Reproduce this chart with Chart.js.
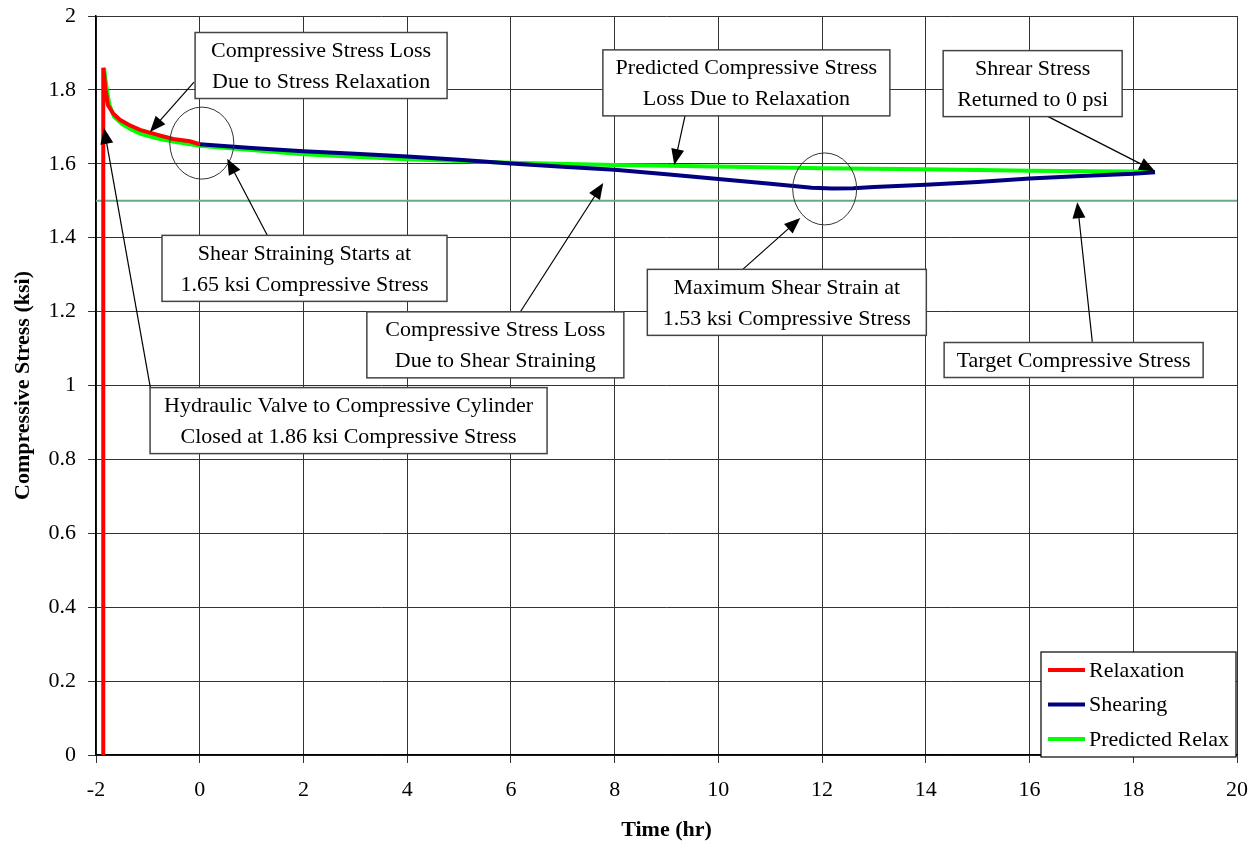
<!DOCTYPE html>
<html>
<head>
<meta charset="utf-8">
<script src="https://cdn.jsdelivr.net/npm/chart.js@4.4.1/dist/chart.umd.min.js"></script>
<style>
  html, body { margin: 0; padding: 0; background: #fff; }
</style>
</head>
<body>
<canvas id="chart" width="1256" height="846"></canvas>
<script>
// values: time (hr) / compressive stress (ksi)
const relaxTime   = [-1.86, -1.86, -1.84, -1.82, -1.77, -1.67, -1.54, -1.36, -1.15, -0.83, -0.51, -0.19, 0];
const relaxStress = [0, 1.86, 1.835, 1.804, 1.759, 1.736, 1.719, 1.705, 1.692, 1.679, 1.667, 1.661, 1.653];

const shearTime   = [0, 1, 2, 3, 4, 5, 6, 7, 8, 9, 10, 11, 11.8, 12.2, 12.6, 13, 14, 15, 16, 17, 18, 18.42];
const shearStress = [1.653, 1.643, 1.634, 1.627, 1.62, 1.611, 1.601, 1.592, 1.584, 1.572, 1.559, 1.546, 1.535, 1.533, 1.534, 1.537, 1.543, 1.551, 1.56, 1.567, 1.573, 1.577];

const predTime   = [-1.845, -1.82, -1.79, -1.74, -1.65, -1.5, -1.34, -1.15, -0.83, -0.51, 0, 2, 4, 6, 8, 10, 12, 14, 16, 18, 18.42];
const predStress = [1.86, 1.83, 1.80, 1.759, 1.727, 1.708, 1.694, 1.682, 1.669, 1.66, 1.649, 1.626, 1.612, 1.603, 1.597, 1.593, 1.588, 1.585, 1.581, 1.579, 1.578];

const targetTime   = [-2, 20];
const targetStress = [1.5, 1.5];

const seriesNames = ['Relaxation', 'Shearing', 'Predicted Relax'];
const seriesColors = ['#ff0000', '#000080', '#00ff00'];

// callouts: box centre, arrow tail and arrow tip in data units
const notes = [
  { text: ['Compressive Stress Loss', 'Due to Stress Relaxation'], at: [2.34, 1.866], w: 252, from: [-0.11, 1.821], to: [-0.96, 1.686] },
  { text: ['Predicted Compressive Stress', 'Loss Due to Relaxation'], at: [10.54, 1.819], w: 287, from: [9.36, 1.732], to: [9.15, 1.597] },
  { text: ['Shrear Stress', 'Returned to 0 psi'], at: [16.06, 1.817], w: 179, from: [16.34, 1.729], to: [18.42, 1.58] },
  { text: ['Shear Straining Starts at', '1.65 ksi Compressive Stress'], at: [2.02, 1.317], w: 285, from: [1.32, 1.402], to: [0.53, 1.614] },
  { text: ['Compressive Stress Loss', 'Due to Shear Straining'], at: [5.70, 1.110], w: 257, from: [6.18, 1.199], to: [7.78, 1.548] },
  { text: ['Maximum Shear Strain at', '1.53 ksi Compressive Stress'], at: [11.32, 1.225], w: 279, from: [10.46, 1.313], to: [11.58, 1.453] },
  { text: ['Target Compressive Stress'], at: [16.85, 1.069], w: 259, from: [17.21, 1.118], to: [16.92, 1.496] },
  { text: ['Hydraulic Valve to Compressive Cylinder', 'Closed at 1.86 ksi Compressive Stress'], at: [2.87, 0.905], w: 397, from: [-0.94, 0.985], to: [-1.846, 1.697] }
];
const rings = [[0.04, 1.656], [12.05, 1.532]];

const serif = "'Liberation Serif', 'Times New Roman', serif";

function pts(xs, ys) {
  return xs.map((x, i) => ({ x: x, y: ys[i] }));
}

function arrow(ctx, x1, y1, x2, y2) {
  const a = Math.atan2(y2 - y1, x2 - x1);
  const len = 16, half = 6.5;
  ctx.beginPath();
  ctx.moveTo(x1, y1);
  ctx.lineTo(x2 - Math.cos(a) * len * 0.8, y2 - Math.sin(a) * len * 0.8);
  ctx.stroke();
  ctx.beginPath();
  ctx.moveTo(x2, y2);
  ctx.lineTo(x2 - Math.cos(a) * len + Math.sin(a) * half, y2 - Math.sin(a) * len - Math.cos(a) * half);
  ctx.lineTo(x2 - Math.cos(a) * len - Math.sin(a) * half, y2 - Math.sin(a) * len + Math.cos(a) * half);
  ctx.closePath();
  ctx.fill();
}

const calloutPlugin = {
  id: 'callouts',
  afterDatasetsDraw(chart) {
    const ctx = chart.ctx;
    const xs = chart.scales.x, ys = chart.scales.y;
    ctx.save();

    // circles
    ctx.strokeStyle = '#333';
    ctx.lineWidth = 1;
    rings.forEach(r => {
      ctx.beginPath();
      ctx.ellipse(xs.getPixelForValue(r[0]), ys.getPixelForValue(r[1]), 32, 36, 0, 0, Math.PI * 2);
      ctx.stroke();
    });

    // arrows
    ctx.strokeStyle = '#000';
    ctx.fillStyle = '#000';
    ctx.lineWidth = 1.2;
    notes.forEach(n => {
      arrow(ctx, xs.getPixelForValue(n.from[0]), ys.getPixelForValue(n.from[1]),
        xs.getPixelForValue(n.to[0]), ys.getPixelForValue(n.to[1]));
    });

    // text boxes
    ctx.font = '22px ' + serif;
    ctx.textAlign = 'center';
    ctx.textBaseline = 'middle';
    notes.forEach(n => {
      const cx = xs.getPixelForValue(n.at[0]);
      const cy = ys.getPixelForValue(n.at[1]);
      const lh = 31;
      const h = n.text.length * lh + 4;
      ctx.fillStyle = '#fff';
      ctx.fillRect(cx - n.w / 2, cy - h / 2, n.w, h);
      ctx.strokeStyle = '#444';
      ctx.lineWidth = 1.5;
      ctx.strokeRect(cx - n.w / 2, cy - h / 2, n.w, h);
      ctx.fillStyle = '#000';
      n.text.forEach((t, i) => {
        ctx.fillText(t, cx, cy + (i - (n.text.length - 1) / 2) * lh + 1);
      });
    });

    // legend box in the lower right corner
    const area = chart.chartArea;
    const lw = 195, lhgt = 105;
    const lx = area.right - lw - 1, ly = area.bottom - lhgt + 2;
    ctx.fillStyle = '#fff';
    ctx.fillRect(lx, ly, lw, lhgt);
    ctx.strokeStyle = '#000';
    ctx.lineWidth = 1.2;
    ctx.strokeRect(lx, ly, lw, lhgt);
    ctx.textAlign = 'left';
    chart.data.datasets.slice(0, 3).forEach((ds, i) => {
      const yy = ly + 18 + i * 34.5;
      ctx.strokeStyle = ds.borderColor;
      ctx.lineWidth = 4;
      ctx.beginPath();
      ctx.moveTo(lx + 7, yy);
      ctx.lineTo(lx + 44, yy);
      ctx.stroke();
      ctx.fillStyle = '#000';
      ctx.fillText(ds.label, lx + 48, yy + 1);
    });
    ctx.restore();
  }
};

const lineStyle = { borderWidth: 4, pointRadius: 0, tension: 0, fill: false };

new Chart(document.getElementById('chart').getContext('2d'), {
  type: 'line',
  data: {
    datasets: [
      Object.assign({ label: seriesNames[0], data: pts(relaxTime, relaxStress), borderColor: seriesColors[0] }, lineStyle),
      Object.assign({ label: seriesNames[1], data: pts(shearTime, shearStress), borderColor: seriesColors[1] }, lineStyle),
      Object.assign({ label: seriesNames[2], data: pts(predTime, predStress), borderColor: seriesColors[2] }, lineStyle),
      { label: 'Target', data: pts(targetTime, targetStress), borderColor: '#66aa88', borderWidth: 2, pointRadius: 0, fill: false }
    ]
  },
  options: {
    responsive: false,
    animation: false,
    layout: { padding: { top: 16, right: 19, left: 0, bottom: 0 } },
    plugins: {
      legend: { display: false },
      tooltip: { enabled: false }
    },
    scales: {
      x: {
        type: 'linear',
        min: -2,
        max: 20,
        // fixed axis band, no extra label overhang padding
        afterFit: s => { s.height = 91; s.paddingLeft = 0; s.paddingRight = 0; },
        ticks: { stepSize: 2, color: '#000', padding: 14, font: { family: serif, size: 22 } },
        grid: { color: '#333', lineWidth: 1, tickLength: 8 },
        border: { color: '#000', width: 1.5 },
        title: { display: true, text: 'Time (hr)', color: '#000', padding: { top: 0, bottom: 2 }, font: { family: serif, size: 22, weight: 'bold' } }
      },
      y: {
        min: 0,
        max: 2,
        afterFit: s => { s.width = 96; s.paddingTop = 0; s.paddingBottom = 0; },
        ticks: {
          stepSize: 0.2, color: '#000', padding: 12, font: { family: serif, size: 22 },
          callback: v => String(parseFloat(Number(v).toFixed(2)))
        },
        grid: { color: '#333', lineWidth: 1, tickLength: 8 },
        border: { color: '#000', width: 1.5 },
        title: { display: true, text: 'Compressive Stress (ksi)', color: '#000', padding: { top: 10, bottom: 0 }, font: { family: serif, size: 22, weight: 'bold' } }
      }
    }
  },
  plugins: [calloutPlugin]
});
</script>
</body>
</html>
